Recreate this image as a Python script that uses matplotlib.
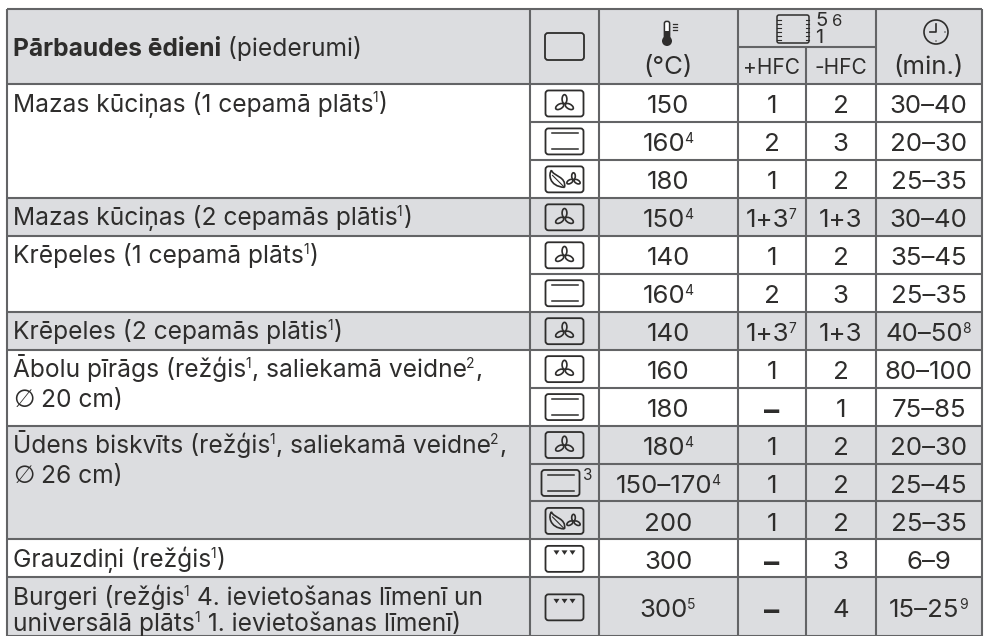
import matplotlib
matplotlib.use("Agg")
import matplotlib.pyplot as plt
from matplotlib.patches import Circle, Ellipse, FancyBboxPatch, PathPatch, Polygon, Rectangle
from matplotlib.path import Path

# --- Table content ---
# "^" marks the superscript that follows, "*" marks a bold dash
HEAD_BOLD = "Pārbaudes ēdieni"
HEAD_REST = " (piederumi)"
HEAD_TEMP = "(°C)"
HEAD_TIME = "(min.)"
HEAD_PLUS = "+HFC"
HEAD_MINUS = "-HFC"

foods = [
    ["Mazas kūciņas (1 cepamā plāts^1)"],
    ["Mazas kūciņas (2 cepamās plātis^1)"],
    ["Krēpeles (1 cepamā plāts^1)"],
    ["Krēpeles (2 cepamās plātis^1)"],
    ["Ābolu pīrāgs (režģis^1, saliekamā veidne^2,", "∅ 20 cm)"],
    ["Ūdens biskvīts (režģis^1, saliekamā veidne^2,", "∅ 26 cm)"],
    ["Grauzdiņi (režģis^1)"],
    ["Burgeri (režģis^1 4. ievietošanas līmenī un", "universālā plāts^1 1. ievietošanas līmenī)"],
]
food_spans = [3, 1, 2, 1, 2, 3, 1, 1]
food_shaded = [False, True, False, True, False, True, False, True]

modes = ["fan", "top", "eco", "fan", "fan", "top", "fan", "fan", "top",
         "fan", "top", "eco", "grill", "grill"]
mode_notes = ["", "", "", "", "", "", "", "", "", "", "3", "", "", ""]
temps = ["150", "160^4", "180", "150^4", "140", "160^4", "140", "160", "180",
         "180^4", "150–170^4", "200", "300", "300^5"]
plus_hfc = ["1", "2", "1", "1+3^7", "1", "2", "1+3^7", "1", "*",
            "1", "1", "1", "*", "*"]
minus_hfc = ["2", "3", "2", "1+3", "2", "3", "1+3", "2", "1",
             "2", "2", "2", "3", "4"]
times = ["30–40", "20–30", "25–35", "30–40", "35–45", "25–35", "40–50^8", "80–100", "75–85",
         "20–30", "25–45", "25–35", "6–9", "15–25^9"]

# --- Layout (pixels) ---
COL_X = [7, 530, 599, 737.5, 806, 875.5, 982]
TOP = 9
HEAD_MID = 47
HEAD_BOTTOM = 84
ROW_H = 37.95
LAST_ROW_H = 59
LINE_COLOR = "#636466"
SHADE = "#dcdde0"
INK = "#2e2d2c"
FONT = "Inter"
FS = 17.7
FS_NUM = 18.6
FS_SMALL = 15
FS_SUP = 10
MAX_BASELINE = 630.5  # keeps descenders of the last line inside the picture

fig = plt.figure(figsize=(9.88, 6.36), dpi=100)
ax = fig.add_axes([0, 0, 1, 1])
ax.set_xlim(0, 988)
ax.set_ylim(636, 0)
ax.axis("off")
renderer = fig.canvas.get_renderer()


def run_width(s, size, weight="normal", family=FONT):
    # measure with a closing bar so spaces at the end count
    t1 = ax.text(0, 0, s + "|", fontsize=size, family=family, weight=weight)
    t2 = ax.text(0, 0, "|", fontsize=size, family=family, weight=weight)
    w = t1.get_window_extent(renderer).width - t2.get_window_extent(renderer).width
    t1.remove()
    t2.remove()
    return w


def split_runs(s):
    runs = []
    parts = s.split("^")
    runs.append((parts[0], False))
    for part in parts[1:]:
        runs.append((part[0], True))
        if part[1:]:
            runs.append((part[1:], False))
    return runs


def draw_runs(s, x, y, size=FS, center=False, raise_by=9):
    runs = split_runs(s)
    widths = [run_width(r, FS_SUP if sup else size) for r, sup in runs]
    if center:
        x = x - sum(widths) / 2
    for (r, sup), w in zip(runs, widths):
        if sup:
            ax.text(x - 1, y - raise_by, r, fontsize=FS_SUP, family=FONT, color=INK, va="baseline")
        elif r.startswith("∅"):
            # Inter's sign is too small, DejaVu has the tall one
            ax.text(x, y, "∅", fontsize=size, family="DejaVu Sans", color=INK, va="baseline")
            ax.text(x + 28, y, r[2:], fontsize=size, family=FONT, color=INK, va="baseline")
        else:
            ax.text(x, y, r, fontsize=size, family=FONT, color=INK, va="baseline")
        x += w


def draw_cell(s, x, y):
    if s == "*":
        ax.text(x, y + 3, "–", fontsize=22, family=FONT, weight="bold", color=INK, ha="center", va="baseline")
    else:
        draw_runs(s, x, y, size=FS_NUM, center=True, raise_by=8)


def box(cx, cy, w=38, h=26):
    ax.add_patch(FancyBboxPatch((cx - w / 2 + 2, cy - h / 2 + 2), w - 4, h - 4,
                                boxstyle="round,pad=2,rounding_size=3",
                                fc="none", ec=INK, lw=1.3))


def fan(cx, cy, r=3.2):
    # three blades, y axis points down
    for angle, dx, dy in [(90, 0, -r * 1.35), (30, r * 1.5, r * 0.95), (-30, -r * 1.5, r * 0.95)]:
        ax.add_patch(Ellipse((cx + dx, cy + dy), r * 2.8, r * 1.5, angle=angle,
                             fc="none", ec=INK, lw=1.2))


def leaf(cx, cy):
    verts = [(cx + 7, cy + 8), (cx - 9, cy + 7), (cx - 9, cy - 6), (cx - 6, cy - 9),
             (cx - 4, cy - 3), (cx + 9, cy - 3), (cx + 7, cy + 8)]
    codes = [Path.MOVETO, Path.CURVE4, Path.CURVE4, Path.CURVE4, Path.CURVE4, Path.CURVE4, Path.CURVE4]
    ax.add_patch(PathPatch(Path(verts, codes), fc="none", ec=INK, lw=1.2))
    ax.plot([cx - 5, cx + 6], [cy - 4, cy + 7], color=INK, lw=0.8)


def mode_icon(kind, cx, cy):
    box(cx, cy)
    if kind == "fan":
        fan(cx, cy)
    elif kind == "top":
        ax.plot([cx - 13, cx + 13], [cy - 8, cy - 8], color=INK, lw=1.1)
        ax.plot([cx - 13, cx + 13], [cy + 8, cy + 8], color=INK, lw=1.1)
    elif kind == "eco":
        leaf(cx - 7, cy)
        fan(cx + 9, cy, r=2.4)
    elif kind == "grill":
        for dx in [-8, 0, 8]:
            ax.add_patch(Polygon([(cx + dx - 3, cy - 8.5), (cx + dx + 3, cy - 8.5), (cx + dx, cy - 4)],
                                 fc=INK, ec="none"))


# --- Row positions ---
n_rows = len(temps)
row_y = [HEAD_BOTTOM + ROW_H * i for i in range(n_rows)] + [HEAD_BOTTOM + ROW_H * (n_rows - 1) + LAST_ROW_H]

# --- Shading ---
ax.add_patch(Rectangle((COL_X[0], TOP), COL_X[-1] - COL_X[0], HEAD_BOTTOM - TOP, fc=SHADE, ec="none"))
start = 0
for span, shaded in zip(food_spans, food_shaded):
    if shaded:
        ax.add_patch(Rectangle((COL_X[0], row_y[start]), COL_X[-1] - COL_X[0],
                               row_y[start + span] - row_y[start], fc=SHADE, ec="none"))
    start += span

# --- Grid lines ---
GRID = dict(color=LINE_COLOR, lw=1.5, solid_capstyle="butt")
for x in COL_X:
    if x == COL_X[4]:
        ax.plot([x, x], [HEAD_MID, row_y[-1]], **GRID)
    else:
        ax.plot([x, x], [TOP, row_y[-1]], **GRID)
ax.plot([COL_X[0], COL_X[-1]], [TOP, TOP], **GRID)
ax.plot([COL_X[0], COL_X[-1]], [HEAD_BOTTOM, HEAD_BOTTOM], **GRID)
ax.plot([COL_X[3], COL_X[5]], [HEAD_MID, HEAD_MID], **GRID)
start = 0
for span in food_spans:
    for i in range(start, start + span):
        ax.plot([COL_X[1], COL_X[-1]], [row_y[i + 1], row_y[i + 1]], **GRID)
    ax.plot([COL_X[0], COL_X[1]], [row_y[start + span], row_y[start + span]], **GRID)
    start += span

# --- Header ---
bold_w = run_width(HEAD_BOLD, FS, "bold")
ax.text(13, 56, HEAD_BOLD, fontsize=FS, family=FONT, weight="bold", color=INK, va="baseline")
ax.text(13 + bold_w, 56, HEAD_REST, fontsize=FS, family=FONT, color=INK, va="baseline")
box((COL_X[1] + COL_X[2]) / 2, 46.5, 39, 27)

# thermometer
tx = 667
ax.add_patch(FancyBboxPatch((tx - 2, 22), 4, 20, boxstyle="round,pad=0.6,rounding_size=2", fc="white", ec=INK, lw=1.1))
ax.add_patch(Rectangle((tx - 2.2, 31), 4.4, 12, fc=INK, ec="none"))
ax.add_patch(Circle((tx, 41), 5, fc=INK, ec="none"))
for y in [24, 27, 30]:
    ax.plot([tx + 5.5, tx + 10], [y, y], color=INK, lw=0.9)
draw_runs(HEAD_TEMP, (COL_X[2] + COL_X[3]) / 2, 74, size=FS_NUM, center=True)

# shelf icon with level numbers
ax.add_patch(FancyBboxPatch((778.5, 16.5), 29, 25, boxstyle="round,pad=1.5,rounding_size=2", fc="none", ec=INK, lw=1.1))
for y in [20, 24, 28, 32, 36, 40]:
    ax.plot([777, 780.5], [y, y], color=INK, lw=0.8)
    ax.plot([805.5, 809], [y, y], color=INK, lw=0.8)
ax.text(815, 26, "5", fontsize=14.5, family=FONT, color=INK, va="baseline")
ax.text(832, 26, "6", fontsize=12, family=FONT, color=INK, va="baseline")
ax.text(815, 43, "1", fontsize=14.5, family=FONT, color=INK, va="baseline")
draw_runs(HEAD_PLUS, (COL_X[3] + COL_X[4]) / 2, 74, size=FS_SMALL, center=True)
draw_runs(HEAD_MINUS, (COL_X[4] + COL_X[5]) / 2, 74, size=FS_SMALL, center=True)

# clock
cx_clock, cy_clock = 936, 32
ax.add_patch(Circle((cx_clock, cy_clock), 12, fc="none", ec=INK, lw=1.2))
ax.plot([cx_clock, cx_clock, cx_clock - 6], [cy_clock - 8, cy_clock, cy_clock], color=INK, lw=1.2)
ax.add_patch(Circle((cx_clock + 9, cy_clock), 0.7, fc=INK, ec="none"))
ax.add_patch(Circle((cx_clock, cy_clock + 9), 0.7, fc=INK, ec="none"))
draw_runs(HEAD_TIME, (COL_X[5] + COL_X[6]) / 2, 74, size=FS_NUM, center=True)

# --- Body ---
start = 0
for lines, span in zip(foods, food_spans):
    base = row_y[start] + 27.5
    for k, line in enumerate(lines):
        draw_runs(line, 13, min(base + 29.5 * k, MAX_BASELINE))
    start += span

for i in range(n_rows):
    mid = (row_y[i] + row_y[i + 1]) / 2
    base = mid + 10.5
    mode_icon(modes[i], (COL_X[1] + COL_X[2]) / 2 - (4 if mode_notes[i] else 0), mid + 0.5)
    if mode_notes[i]:
        ax.text(583, mid - 2, mode_notes[i], fontsize=FS_SUP + 1, family=FONT, color=INK, va="baseline")
    draw_cell(temps[i], (COL_X[2] + COL_X[3]) / 2, base)
    draw_cell(plus_hfc[i], (COL_X[3] + COL_X[4]) / 2, base)
    draw_cell(minus_hfc[i], (COL_X[4] + COL_X[5]) / 2, base)
    draw_cell(times[i], (COL_X[5] + COL_X[6]) / 2, base)

fig.savefig("out.png", dpi=100)
